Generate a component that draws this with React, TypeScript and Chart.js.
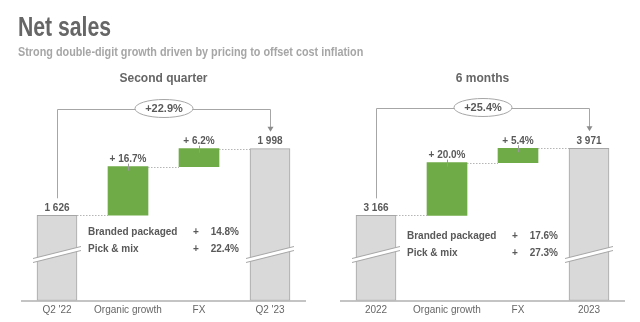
import React, { useEffect, useRef } from "react";
import { Chart, registerables } from "chart.js";

Chart.register(...registerables);

// ---------- data ----------
const pageTitle = "Net sales";
const pageSubtitle = "Strong double-digit growth driven by pricing to offset cost inflation";

const quarterTitle = "Second quarter";
const quarterCategories = ["Q2 '22", "Organic growth", "FX", "Q2 '23"];
const quarterOpening = 1626;
const quarterClosing = 1998;
const quarterSteps = [16.7, 6.2]; // organic growth %, FX %
const quarterTotalGrowth = 22.9;
const quarterSplitLabels = ["Branded packaged", "Pick & mix"];
const quarterSplitValues = [14.8, 22.4];
const quarterAxisRange = [1150, 2270];

const halfTitle = "6 months";
const halfCategories = ["2022", "Organic growth", "FX", "2023"];
const halfOpening = 3166;
const halfClosing = 3971;
const halfSteps = [20.0, 5.4];
const halfTotalGrowth = 25.4;
const halfSplitLabels = ["Branded packaged", "Pick & mix"];
const halfSplitValues = [17.6, 27.3];
const halfAxisRange = [2145, 4550];

// ---------- helpers ----------
const FONT = "'Liberation Sans', Arial, Helvetica, sans-serif";
const GREEN = "#6fab47";
const GREY_FILL = "#d9d9d9";
const GREY_LINE = "#a6a6a6";
const TEXT = "#595959";

const fmtNum = (n: number) => String(n).replace(/\B(?=(\d{3})+(?!\d))/g, " ");

type Panel = {
  title: string;
  categories: string[];
  opening: number;
  closing: number;
  steps: number[];
  total: number;
  splitLabels: string[];
  splitValues: number[];
  range: number[];
  padLeft: number;
  padRight: number;
  rowOffset: number;
};

const panels: Panel[] = [
  {
    title: quarterTitle,
    categories: quarterCategories,
    opening: quarterOpening,
    closing: quarterClosing,
    steps: quarterSteps,
    total: quarterTotalGrowth,
    splitLabels: quarterSplitLabels,
    splitValues: quarterSplitValues,
    range: quarterAxisRange,
    padLeft: 21.5,
    padRight: 14.5,
    rowOffset: 17,
  },
  {
    title: halfTitle,
    categories: halfCategories,
    opening: halfOpening,
    closing: halfClosing,
    steps: halfSteps,
    total: halfTotalGrowth,
    splitLabels: halfSplitLabels,
    splitValues: halfSplitValues,
    range: halfAxisRange,
    padLeft: 20.5,
    padRight: 15.5,
    rowOffset: 21,
  },
];

function buildBars(p: Panel) {
  const min = p.range[0];
  const organicEnd = p.opening * (1 + p.steps[0] / 100);
  return [
    [min, p.opening],
    [p.opening, organicEnd],
    [organicEnd, p.closing],
    [min, p.closing],
  ];
}

function makeOverlay(p: Panel) {
  return {
    id: "waterfallOverlay",
    afterDatasetsDraw(chart: any) {
      const ctx: CanvasRenderingContext2D = chart.ctx;
      const els: any[] = chart.getDatasetMeta(0).data;
      const area = chart.chartArea;
      const w = els[0].width;
      ctx.save();

      // dotted connectors
      ctx.strokeStyle = "#b5b5b5";
      ctx.lineWidth = 1;
      ctx.setLineDash([1.5, 1.5]);
      for (let i = 0; i < 3; i++) {
        const y = Math.round(els[i].y) + 0.5;
        ctx.beginPath();
        ctx.moveTo(els[i].x + w / 2, y);
        ctx.lineTo(els[i + 1].x - w / 2, y);
        ctx.stroke();
      }
      ctx.setLineDash([]);

      // axis breaks on total bars
      for (const i of [0, 3]) {
        const x = els[i].x;
        const half = w / 2 + 4;
        const yc = area.bottom - 46;
        const rise = 6;
        const t = 2;
        ctx.beginPath();
        ctx.moveTo(x - half, yc + rise - t);
        ctx.lineTo(x + half, yc - rise - t);
        ctx.lineTo(x + half, yc - rise + t);
        ctx.lineTo(x - half, yc + rise + t);
        ctx.closePath();
        ctx.fillStyle = "#ffffff";
        ctx.fill();
        ctx.strokeStyle = GREY_LINE;
        ctx.lineWidth = 1;
        ctx.beginPath();
        ctx.moveTo(x - half, yc + rise - t);
        ctx.lineTo(x + half, yc - rise - t);
        ctx.moveTo(x - half, yc + rise + t);
        ctx.lineTo(x + half, yc - rise + t);
        ctx.stroke();
      }

      // small ticks on green bars
      ctx.strokeStyle = "#9a9a9a";
      for (const i of [1, 2]) {
        const x = Math.round(els[i].x) + 0.5;
        ctx.beginPath();
        ctx.moveTo(x, els[i].y - 3);
        ctx.lineTo(x, els[i].y + 4);
        ctx.stroke();
      }

      // value labels
      const labels = [
        fmtNum(p.opening),
        "+ " + p.steps[0].toFixed(1) + "%",
        "+ " + p.steps[1].toFixed(1) + "%",
        fmtNum(p.closing),
      ];
      ctx.fillStyle = TEXT;
      ctx.font = `bold 10px ${FONT}`;
      ctx.textAlign = "center";
      ctx.textBaseline = "middle";
      labels.forEach((l, i) => ctx.fillText(l, els[i].x, els[i].y - 7));

      // bracket with arrow
      const x0 = Math.round(els[0].x) + 0.5;
      const x3 = Math.round(els[3].x) + 0.5;
      const yb = Math.round(Math.min(els[3].y, els[2].y) - 40) + 0.5;
      const tipY = els[3].y - 17;
      ctx.strokeStyle = GREY_LINE;
      ctx.lineWidth = 1;
      ctx.beginPath();
      ctx.moveTo(x0, els[0].y - 17);
      ctx.lineTo(x0, yb);
      ctx.lineTo(x3, yb);
      ctx.lineTo(x3, tipY - 4);
      ctx.stroke();
      ctx.fillStyle = "#8c8c8c";
      ctx.beginPath();
      ctx.moveTo(x3, tipY);
      ctx.lineTo(x3 - 3, tipY - 5);
      ctx.lineTo(x3 + 3, tipY - 5);
      ctx.closePath();
      ctx.fill();

      // ellipse with total growth
      const cx = (x0 + x3) / 2;
      ctx.beginPath();
      ctx.ellipse(cx, yb - 1, 29, 9, 0, 0, Math.PI * 2);
      ctx.fillStyle = "#ffffff";
      ctx.fill();
      ctx.strokeStyle = GREY_LINE;
      ctx.stroke();
      ctx.fillStyle = TEXT;
      ctx.font = `bold 11px ${FONT}`;
      ctx.textAlign = "center";
      ctx.fillText("+" + p.total.toFixed(1) + "%", cx, yb - 1);

      // organic growth split
      ctx.font = `bold 10px ${FONT}`;
      const labelX = els[1].x - w / 2 - 20;
      const plusX = els[2].x - w / 2 + 17;
      const valX = els[2].x + w / 2 + 20;
      p.splitLabels.forEach((l, k) => {
        const y = els[0].y + p.rowOffset + k * 17;
        ctx.textAlign = "left";
        ctx.fillText(l, labelX, y);
        ctx.textAlign = "center";
        ctx.fillText("+", plusX, y);
        ctx.textAlign = "right";
        ctx.fillText(p.splitValues[k].toFixed(1) + "%", valX, y);
      });

      ctx.restore();
    },
  };
}

function PanelChart({ p, left }: { p: Panel; left: number }) {
  const ref = useRef<HTMLCanvasElement | null>(null);
  useEffect(() => {
    if (!ref.current) return;
    const chart = new Chart(ref.current, {
      type: "bar",
      data: {
        labels: p.categories,
        datasets: [
          {
            data: buildBars(p) as any,
            backgroundColor: [GREY_FILL, GREEN, GREEN, GREY_FILL],
            borderColor: [GREY_LINE, GREEN, GREEN, GREY_LINE],
            borderWidth: [1, 0, 0, 1] as any,
            borderSkipped: false,
            barThickness: 40,
          },
        ],
      },
      options: {
        responsive: false,
        animation: false,
        devicePixelRatio: 1,
        layout: {
          padding: { left: p.padLeft, right: p.padRight, top: 0, bottom: 2.5 },
        },
        plugins: {
          legend: { display: false },
          tooltip: { enabled: false },
          title: {
            display: true,
            text: p.title,
            color: "#666666",
            font: { family: FONT, size: 12, weight: "bold" },
            padding: { top: 71.8, bottom: 13.8 },
          },
        },
        scales: {
          x: {
            grid: { display: false, drawTicks: false },
            border: { display: true, color: "#c4c4c4", width: 2 },
            ticks: {
              color: "#666666",
              font: { family: FONT, size: 10 },
              padding: 3.5,
              maxRotation: 0,
              autoSkip: false,
            },
          },
          y: {
            display: false,
            min: p.range[0],
            max: p.range[1],
          },
        },
      },
      plugins: [makeOverlay(p)],
    });
    return () => chart.destroy();
  }, [p]);
  return (
    <canvas
      ref={ref}
      width={320}
      height={322}
      style={{ position: "absolute", left, top: 0, width: 320, height: 322 }}
    />
  );
}

export default function App() {
  return (
    <div
      style={{
        position: "fixed",
        left: 0,
        top: 0,
        width: 640,
        height: 322,
        background: "#ffffff",
        overflow: "hidden",
        fontFamily: FONT,
      }}
    >
      <PanelChart p={panels[0]} left={0} />
      <PanelChart p={panels[1]} left={320} />
      <div
        style={{
          position: "absolute",
          left: 18,
          top: 14,
          fontSize: 27,
          lineHeight: "27px",
          fontWeight: "bold",
          color: "#666666",
          whiteSpace: "nowrap",
          transform: "scaleX(0.785)",
          transformOrigin: "left top",
        }}
      >
        {pageTitle}
      </div>
      <div
        style={{
          position: "absolute",
          left: 18,
          top: 44.5,
          fontSize: 13,
          lineHeight: "13px",
          fontWeight: "bold",
          color: "#a6a6a6",
          whiteSpace: "nowrap",
          transform: "scaleX(0.833)",
          transformOrigin: "left top",
        }}
      >
        {pageSubtitle}
      </div>
    </div>
  );
}
